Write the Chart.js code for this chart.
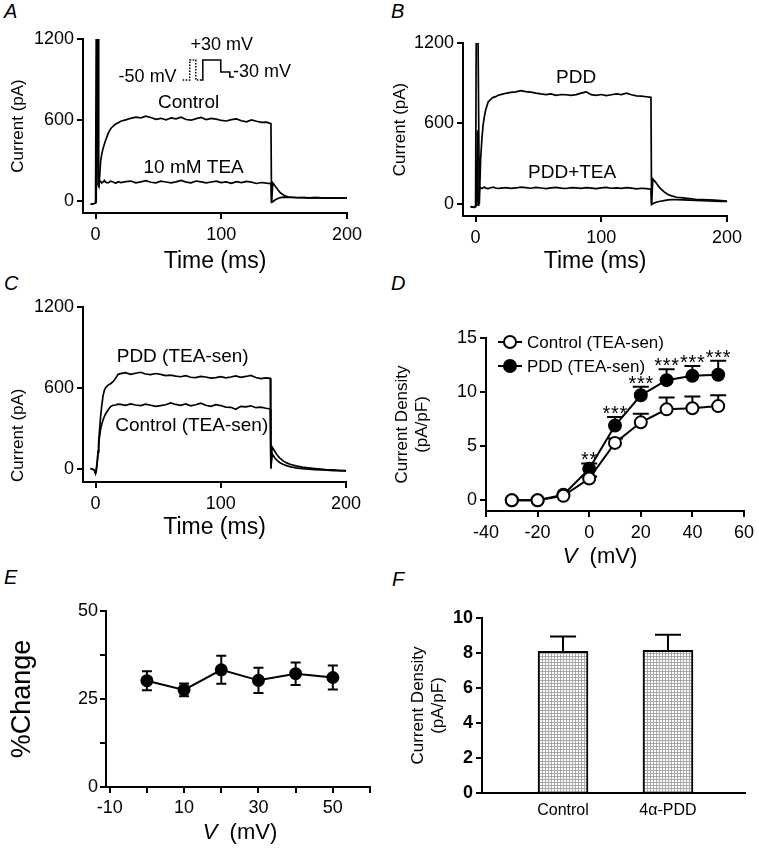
<!DOCTYPE html>
<html>
<head>
<meta charset="utf-8">
<script src="https://cdn.jsdelivr.net/npm/chart.js@4.4.1/dist/chart.umd.min.js"></script>
<style>
  body { margin: 0; background: #fff; width: 759px; height: 854px; position: relative; overflow: hidden; }
  canvas { position: absolute; }
  .lab { position: absolute; font: italic 20px/20px 'Liberation Sans', Arial, sans-serif; color: #000; }
</style>
</head>
<body>
<div class="lab" style="left:4px;top:1px">A</div>
<div class="lab" style="left:391px;top:1px">B</div>
<div class="lab" style="left:4px;top:273px">C</div>
<div class="lab" style="left:391px;top:273px">D</div>
<div class="lab" style="left:4px;top:567px">E</div>
<div class="lab" style="left:392px;top:569px">F</div>

<canvas id="cA" style="left:0;top:25px" width="375" height="255"></canvas>
<canvas id="cB" style="left:380px;top:25px" width="379" height="255"></canvas>
<canvas id="cC" style="left:0;top:290px" width="375" height="255"></canvas>
<canvas id="cD" style="left:380px;top:320px" width="379" height="260"></canvas>
<canvas id="cE" style="left:0;top:590px" width="380" height="264"></canvas>
<canvas id="cF" style="left:380px;top:590px" width="379" height="264"></canvas>

<script>
// ---- data ----
// sample times (ms) shared by the current traces of A, B, C
const timeMs = [-4, -1, 0, 0.5, 1.5, 2, 2.5, 3, 4, 5, 6, 7, 8, 10, 12, 14, 16, 18,
  20, 24, 28, 32, 36, 40, 44, 48, 52, 56, 60, 64, 68, 72, 76, 80, 84, 88, 92, 96, 100, 104, 108, 112, 116, 120, 124, 128, 132, 136,
  139.5, 140, 141, 143, 145, 147, 150, 153, 156, 160, 165, 170, 175, 180, 185, 190, 195, 200];

// A: Control and 10 mM TEA (pA)
const controlA = [-25, -20, -15, 1200, 1200, 120, 110, 150, 290, 350, 390, 420, 450, 500, 535, 555, 570, 580,
  590, 600, 612, 620, 615, 628, 618, 605, 612, 600, 615, 608, 620, 603, 598, 610, 618, 602, 612, 606, 596, 592, 602, 608, 594, 586, 600, 590, 582, 584,
  572, -10, 132, 108, 82, 60, 40, 30, 27, 25, 24, 22, 24, 22, 21, 22, 20, 20];
const teaA = [-25, -20, -15, -10, 1200, 1200, 100, 135, 145, 132, 140, 152, 138, 133, 146, 140, 130, 142,
  136, 142, 147, 134, 141, 150, 138, 134, 146, 140, 133, 141, 152, 139, 134, 147, 141, 133, 140, 146, 135, 141, 130, 142, 136, 145, 139, 129, 136, 131,
  128, -10, -6, 8, 18, 24, 28, 26, 25, 23, 24, 22, 24, 22, 20, 22, 20, 20];

// B: PDD and PDD+TEA (pA)
const pddB = [-20, -25, -20, 1200, 1200, 1200, 1200, 0, 330, 480, 590, 650, 700, 760, 780, 795, 800, 810,
  815, 825, 832, 836, 845, 838, 834, 826, 820, 815, 820, 810, 816, 814, 809, 815, 826, 836, 815, 810, 816, 808, 814, 820, 815, 826, 814, 806, 804, 799,
  795, 0, 185, 165, 140, 115, 90, 70, 60, 50, 45, 40, 35, 32, 30, 28, 25, 22];
const pddTeaB = [-20, -25, -20, -15, 550, -10, -5, 110, 122, 115, 121, 126, 118, 114, 121, 125, 119, 115,
  118, 122, 116, 119, 125, 121, 117, 123, 119, 114, 120, 124, 118, 115, 121, 119, 116, 122, 118, 114, 120, 123, 117, 119, 116, 121, 118, 113, 117, 114,
  110, -5, 2, 10, 16, 20, 25, 30, 32, 32, 30, 28, 26, 25, 22, 20, 18, 18];

// C: TEA-sensitive currents (pA)
const pddSenC = [0, -10, -35, -20, 60, 130, 200, 260, 380, 470, 540, 580, 600, 620, 630, 645, 670, 700,
  705, 712, 700, 708, 715, 702, 698, 706, 700, 690, 694, 686, 682, 690, 678, 676, 684, 680, 672, 676, 682, 674, 680, 688, 678, 684, 692, 676, 668, 674,
  670, 0, 160, 130, 100, 80, 55, 40, 30, 20, 10, 5, 0, -5, -10, -10, -15, -15];
const controlSenC = [0, -10, -35, -20, 60, 120, 170, 220, 290, 330, 360, 385, 405, 435, 460, 470, 472, 478,
  476, 470, 480, 472, 468, 478, 470, 462, 468, 474, 488, 476, 470, 480, 466, 474, 485, 470, 462, 474, 468, 456, 455, 440, 462, 458, 466, 452, 456, 448,
  442, 0, 110, 80, 60, 45, 30, 20, 12, 5, 0, -5, -8, -10, -12, -15, -15, -18];

// D: I-V of TEA-sensitive current density (pA/pF)
const voltsD = [-30, -20, -10, 0, 10, 20, 30, 40, 50];
const controlD = [0, 0, 0.4, 2.0, 5.3, 7.2, 8.4, 8.5, 8.7];
const controlErrD = [0, 0, 0, 0.2, 0.4, 0.8, 1.1, 1.1, 1.0];
const pddD = [0, 0, 0.5, 2.9, 6.9, 9.7, 11.1, 11.5, 11.6];
const pddErrD = [0, 0, 0, 0.5, 0.8, 0.8, 1.0, 0.9, 1.3];
const starsD = ['', '', '', '**', '***', '***', '***', '***', '***'];

// E: % change
const voltsE = [0, 10, 20, 30, 40, 50];
const changeE = [30.2, 27.6, 33.3, 30.3, 32.2, 31.1];
const changeErrE = [2.7, 1.8, 4.0, 3.6, 3.2, 3.4];

// F: bars
const groupsF = ['Control', '4\u03b1-PDD'];
const densityF = [8.1, 8.15];
const densityErrF = [0.85, 0.9];

// tick values
const ticksTime = [0, 100, 200];
const ticksCurrent = [0, 600, 1200];
const ticksVD = [-40, -20, 0, 20, 40, 60];
const ticksDensD = [0, 5, 10, 15];
const ticksVE = [-10, 0, 10, 20, 30, 40, 50, 60];
const labelsVE = [-10, 10, 30, 50];
const ticksChangeE = [0, 12.5, 25, 37.5, 50];
const labelsChangeE = [0, 25, 50];
const ticksDensF = [0, 2, 4, 6, 8, 10];

// ---- helpers ----
const FONT = "'Liberation Sans', Arial, Helvetica, sans-serif";
const BLACK = '#000';
Chart.defaults.font.family = FONT;
Chart.defaults.color = BLACK;

function pts(xs, ys) { return xs.map((x, i) => ({x: x, y: ys[i]})); }

function axis(o) {
  const tickLen = o.tickLen ?? 6;
  return {
    type: 'linear', min: o.min, max: o.max, offset: false,
    afterBuildTicks: s => { s.ticks = o.ticks.map(v => ({value: v})); },
    afterFit: s => { if (s.isHorizontal()) s.height = o.size; else s.width = o.size; },
    grid: {display: tickLen > 0, drawOnChartArea: false, drawTicks: tickLen > 0, tickLength: tickLen,
      tickWidth: 2, tickColor: BLACK, color: BLACK, lineWidth: 2, offset: false},
    border: {display: true, color: BLACK, width: 2},
    ticks: {
      color: BLACK, padding: o.pad ?? 3, maxRotation: 0, autoSkip: false,
      font: {family: FONT, size: o.fontSize ?? 18, weight: o.bold ? 'bold' : 'normal'},
      callback: o.fmt || (v => (o.labels && !o.labels.includes(v)) ? '' : String(v))
    },
    title: o.title ? {display: true, text: o.title, color: BLACK, align: o.titleAlign || 'center',
      font: {family: FONT, size: o.titleSize, weight: 'normal'}, padding: o.titlePad} : {display: false}
  };
}

function trace(values) {
  return {data: pts(timeMs, values), borderColor: BLACK, borderWidth: 1.7, pointRadius: 0, tension: 0, fill: false};
}

function makeChart(id, type, datasets, scales, padTop, padRight, plugins) {
  return new Chart(document.getElementById(id), {
    type: type,
    data: {datasets: datasets},
    plugins: plugins,
    options: {
      responsive: false, animation: false, events: [],
      layout: {padding: {top: padTop, right: padRight, left: 0, bottom: 0}},
      plugins: {legend: {display: false}, tooltip: {enabled: false}},
      scales: scales
    }
  });
}

// text labels placed in data units
function notes(list) {
  return {
    id: 'notes',
    afterDatasetsDraw(chart) {
      const {ctx, scales: {x, y}} = chart;
      ctx.save();
      ctx.fillStyle = BLACK; ctx.textAlign = 'center'; ctx.textBaseline = 'middle';
      list.forEach(n => {
        ctx.font = n.size + 'px ' + FONT;
        ctx.fillText(n.text, x.getPixelForValue(n.x), y.getPixelForValue(n.y));
      });
      ctx.restore();
    }
  };
}

function errorBars(capHalf, both, onTop) {
  const hook = onTop ? 'afterDatasetsDraw' : 'beforeDatasetsDraw';
  return {
    id: 'errorBars',
    [hook](chart) {
      const ctx = chart.ctx, ys = chart.scales.y;
      ctx.save();
      ctx.strokeStyle = BLACK; ctx.lineWidth = 2;
      chart.data.datasets.forEach((ds, i) => {
        if (!ds.errors) return;
        chart.getDatasetMeta(i).data.forEach((el, j) => {
          const v = ds.data[j].y, e = ds.errors[j];
          if (!e) return;
          const top = ys.getPixelForValue(v + e);
          const bot = ys.getPixelForValue(both ? v - e : v);
          ctx.beginPath();
          ctx.moveTo(el.x, bot); ctx.lineTo(el.x, top);
          ctx.moveTo(el.x - capHalf, top); ctx.lineTo(el.x + capHalf, top);
          if (both) { ctx.moveTo(el.x - capHalf, bot); ctx.lineTo(el.x + capHalf, bot); }
          ctx.stroke();
        });
      });
      ctx.restore();
    }
  };
}

function vTitle(cx, cy, size) {
  return {
    id: 'vTitle',
    afterDraw(chart) {
      const ctx = chart.ctx;
      ctx.save();
      ctx.fillStyle = BLACK; ctx.textBaseline = 'middle'; ctx.textAlign = 'left';
      const fa = 'italic ' + size + 'px ' + FONT, fb = size + 'px ' + FONT;
      ctx.font = fa; const wa = ctx.measureText('V').width;
      ctx.font = fb; const wb = ctx.measureText('  (mV)').width;
      const x0 = cx - (wa + wb) / 2;
      ctx.font = fa; ctx.fillText('V', x0, cy);
      ctx.font = fb; ctx.fillText('  (mV)', x0 + wa, cy);
      ctx.restore();
    }
  };
}

// voltage protocol inset of panel A (drawn in ms / pA units)
const protocolA = {
  id: 'protocolA',
  afterDatasetsDraw(chart) {
    const {ctx, scales: {x, y}} = chart;
    const path = (p, dash) => {
      ctx.setLineDash(dash);
      ctx.beginPath();
      p.forEach(([t, v], i) => {
        const px = x.getPixelForValue(t), py = y.getPixelForValue(v);
        if (i) ctx.lineTo(px, py); else ctx.moveTo(px, py);
      });
      ctx.stroke();
    };
    ctx.save();
    ctx.strokeStyle = BLACK; ctx.lineWidth = 1.5;
    path([[69.3, 896], [74.9, 896], [74.9, 1044], [79.7, 1044], [79.7, 896], [82.9, 896]], [1.5, 1.5]);
    path([[82.9, 896], [85.3, 896], [85.3, 1044], [99.6, 1044], [99.6, 955], [106.8, 955], [106.8, 918], [110, 918]], []);
    ctx.restore();
  }
};

const legendD = {
  id: 'legendD',
  afterDraw(chart) {
    const ctx = chart.ctx;
    chart.data.datasets.forEach((ds, i) => {
      const cx = 130, cy = 22 + i * 24;
      ctx.save();
      ctx.strokeStyle = BLACK; ctx.lineWidth = 2;
      ctx.beginPath(); ctx.moveTo(cx - 12, cy); ctx.lineTo(cx + 12, cy); ctx.stroke();
      ctx.beginPath(); ctx.arc(cx, cy, 6, 0, Math.PI * 2);
      ctx.fillStyle = ds.pointBackgroundColor; ctx.fill(); ctx.stroke();
      ctx.fillStyle = BLACK; ctx.font = '17px ' + FONT;
      ctx.textBaseline = 'middle'; ctx.textAlign = 'left';
      ctx.fillText(ds.label, cx + 17, cy + 1);
      ctx.restore();
    });
  }
};

const starsPluginD = {
  id: 'starsD',
  afterDatasetsDraw(chart) {
    const {ctx, scales: {x, y}} = chart;
    ctx.save();
    ctx.fillStyle = BLACK; ctx.font = '20px ' + FONT;
    ctx.textAlign = 'center'; ctx.textBaseline = 'alphabetic';
    starsD.forEach((s, i) => {
      if (!s) return;
      const cx = x.getPixelForValue(voltsD[i]);
      const cy = y.getPixelForValue(pddD[i] + pddErrD[i]) - 9;
      for (let k = 0; k < s.length; k++) {
        ctx.fillText('*', cx + (k - (s.length - 1) / 2) * 8.5, cy + 12);
      }
    });
    ctx.restore();
  }
};

// ---- A ----
makeChart('cA', 'line', [trace(controlA), trace(teaA)], {
  x: axis({min: -10, max: 200, ticks: ticksTime, size: 67, pad: 5,
    title: 'Time (ms)', titleSize: 23, titlePad: {top: 0, bottom: 5}}),
  y: axis({min: -90, max: 1200, ticks: ticksCurrent, size: 83,
    title: 'Current (pA)', titleSize: 17, titlePad: {top: 8, bottom: 0}})
}, 14, 28, [protocolA, notes([
  {text: 'Control', x: 74, y: 725, size: 19},
  {text: '10 mM TEA', x: 78, y: 244, size: 19},
  {text: '+30 mV', x: 100.4, y: 1155, size: 18},
  {text: '-50 mV', x: 41.4, y: 918, size: 18},
  {text: '-30 mV', x: 132.3, y: 955, size: 18}
])]);

// ---- B ----
makeChart('cB', 'line', [trace(pddB), trace(pddTeaB)], {
  x: axis({min: -10, max: 200, ticks: ticksTime, size: 64, pad: 5,
    title: 'Time (ms)', titleSize: 23, titlePad: {top: 0, bottom: 5}}),
  y: axis({min: -90, max: 1200, ticks: ticksCurrent, size: 83,
    title: 'Current (pA)', titleSize: 17, titlePad: {top: 10, bottom: 0}})
}, 18, 32, [notes([
  {text: 'PDD', x: 80, y: 938, size: 19},
  {text: 'PDD+TEA', x: 76.8, y: 232, size: 19}
])]);

// ---- C ----
makeChart('cC', 'line', [trace(pddSenC), trace(controlSenC)], {
  x: axis({min: -10, max: 200, ticks: ticksTime, size: 63, pad: 5,
    title: 'Time (ms)', titleSize: 23, titlePad: {top: 0, bottom: 4}}),
  y: axis({min: -100, max: 1200, ticks: ticksCurrent, size: 83,
    title: 'Current (pA)', titleSize: 17, titleAlign: 'start', titlePad: {top: 8, bottom: 0}})
}, 17, 29, [notes([
  {text: 'PDD (TEA-sen)', x: 69.6, y: 827, size: 19},
  {text: 'Control (TEA-sen)', x: 76.8, y: 320, size: 19}
])]);

// ---- D ----
makeChart('cD', 'line', [
  {label: 'Control (TEA-sen)', data: pts(voltsD, controlD), errors: controlErrD,
    borderColor: BLACK, borderWidth: 2, pointRadius: 6, pointBackgroundColor: '#fff',
    pointBorderColor: BLACK, pointBorderWidth: 2, tension: 0},
  {label: 'PDD (TEA-sen)', data: pts(voltsD, pddD), errors: pddErrD,
    borderColor: BLACK, borderWidth: 2, pointRadius: 6, pointBackgroundColor: BLACK,
    pointBorderColor: BLACK, pointBorderWidth: 2, tension: 0}
], {
  x: axis({min: -40, max: 60, ticks: ticksVD, size: 69, pad: 5}),
  y: axis({min: -1, max: 15, ticks: ticksDensD, size: 106,
    title: ['Current Density', '(pA/pF)'], titleSize: 17, titlePad: {top: 12, bottom: 0}})
}, 18, 11, [errorBars(8, false, false), starsPluginD, legendD, vTitle(220, 237, 22)]);

// ---- E ----
makeChart('cE', 'line', [
  {data: pts(voltsE, changeE), errors: changeErrE, borderColor: BLACK, borderWidth: 2,
    pointRadius: 5.5, pointBackgroundColor: BLACK, pointBorderColor: BLACK, tension: 0}
], {
  x: axis({min: -11, max: 60, ticks: ticksVE, labels: labelsVE, size: 67, pad: 4}),
  y: axis({min: 0, max: 50, ticks: ticksChangeE, labels: labelsChangeE, size: 106, pad: 2,
    title: '%Change', titleSize: 27, titlePad: {top: 6, bottom: 0}})
}, 21, 10, [errorBars(5, true, false), vTitle(240, 243, 22)]);

// ---- F ----
const canvasF = document.getElementById('cF');
const tile = document.createElement('canvas');
tile.width = 3; tile.height = 3;
const tg = tile.getContext('2d');
tg.fillStyle = '#fff'; tg.fillRect(0, 0, 3, 3);
tg.fillStyle = '#a8a8a8'; tg.fillRect(0, 0, 3, 1); tg.fillRect(0, 0, 1, 3);
const stipple = canvasF.getContext('2d').createPattern(tile, 'repeat');

makeChart('cF', 'bar', [
  {data: groupsF.map((g, i) => ({x: i + 1, y: densityF[i]})), errors: densityErrF,
    backgroundColor: stipple, borderColor: BLACK, borderWidth: 2, barThickness: 50}
], {
  x: axis({min: 0.228, max: 2.734, ticks: [1, 2], size: 61, tickLen: 0, pad: 8, fontSize: 16,
    fmt: v => groupsF[v - 1] ?? ''}),
  y: axis({min: 0, max: 10, ticks: ticksDensF, size: 102, bold: true,
    title: ['Current Density', '(pA/pF)'], titleSize: 17, titlePad: {top: 28, bottom: 0}})
}, 28, 14, [errorBars(13, false, true)]);
</script>
</body>
</html>
